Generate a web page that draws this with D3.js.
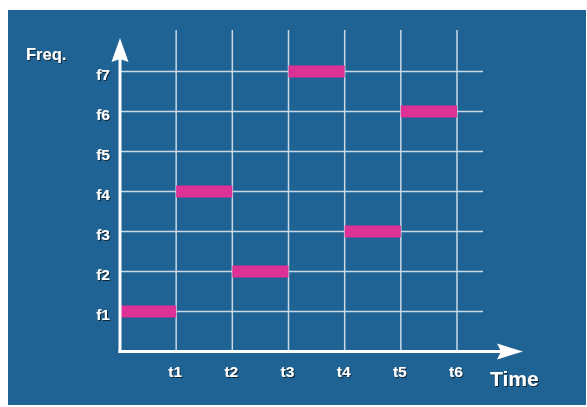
<!DOCTYPE html>
<html><head><meta charset="utf-8">
<script src="https://cdn.jsdelivr.net/npm/d3@7"></script>
<style>body{margin:0;background:#fff}svg{display:block}</style>
</head><body>
<svg id="c" width="587" height="407"></svg>
<script>
const timeLabels = ["t1","t2","t3","t4","t5","t6"];
const freqLabels = ["f1","f2","f3","f4","f5","f6","f7"];
// hops: time slot start index -> frequency index (1-based)
const hopStart = [0,1,2,3,4,5];
const hopFreq  = [1,4,2,7,3,6];

const svg = d3.select("#c");
const defs = svg.append("defs");
const f = defs.append("filter").attr("id","sh").attr("x","-20%").attr("y","-20%").attr("width","140%").attr("height","140%");
f.append("feDropShadow").attr("dx",1).attr("dy",1).attr("stdDeviation",0.6).attr("flood-color","#0a1a2a").attr("flood-opacity",0.9);

svg.append("rect").attr("x",8).attr("y",10).attr("width",578).attr("height",395).attr("fill","#1f6394");

const x = d3.scaleLinear().domain([0,6]).range([120,457]);
const y = d3.scaleLinear().domain([0,7]).range([351.5,71.5]);

const grid = svg.append("g").attr("stroke","#c9d9e6").attr("stroke-width",1.5);
grid.selectAll("line.v").data(d3.range(1,7)).join("line")
  .attr("x1",d=>x(d)).attr("x2",d=>x(d)).attr("y1",30).attr("y2",y(0));
grid.selectAll("line.h").data(d3.range(1,8)).join("line")
  .attr("x1",x(0)).attr("x2",483).attr("y1",d=>y(d)).attr("y2",d=>y(d));

svg.append("g").selectAll("rect").data(hopStart).join("rect")
  .attr("x",(d)=>x(d)).attr("width",(d)=>x(d+1)-x(d))
  .attr("y",(d,i)=>y(hopFreq[i])-6).attr("height",12)
  .attr("fill","#dd3196");

// axes
svg.append("line").attr("x1",x(0)).attr("x2",x(0)).attr("y1",y(0)+1.5).attr("y2",55)
  .attr("stroke","#fff").attr("stroke-width",3);
svg.append("line").attr("x1",x(0)-1.5).attr("x2",505).attr("y1",y(0)).attr("y2",y(0))
  .attr("stroke","#fff").attr("stroke-width",3);
svg.append("path").attr("fill","#fff")
  .attr("d",`M${x(0)},38 L${x(0)+8.5},62 L${x(0)},59 L${x(0)-8.5},62 Z`);
svg.append("path").attr("fill","#fff")
  .attr("d",`M523,${y(0)} L497,${y(0)-8} L501,${y(0)} L497,${y(0)+8} Z`);

const txt = svg.append("g").attr("fill","#fff").attr("font-family","Liberation Sans, Arial, sans-serif")
  .attr("font-weight","bold").attr("filter","url(#sh)");
txt.selectAll("text.f").data(freqLabels).join("text")
  .attr("x",110).attr("y",(d,i)=>y(i+1)+8.5).attr("text-anchor","end").attr("font-size",15.5).text(d=>d);
txt.selectAll("text.t").data(timeLabels).join("text")
  .attr("x",(d,i)=>x(i+1)-1).attr("y",377).attr("text-anchor","middle").attr("font-size",15.5).text(d=>d);
txt.append("text").attr("x",26).attr("y",60).attr("font-size",16.5).text("Freq.");
txt.append("text").attr("x",490).attr("y",385.5).attr("font-size",21).text("Time");
</script>
</body></html>
